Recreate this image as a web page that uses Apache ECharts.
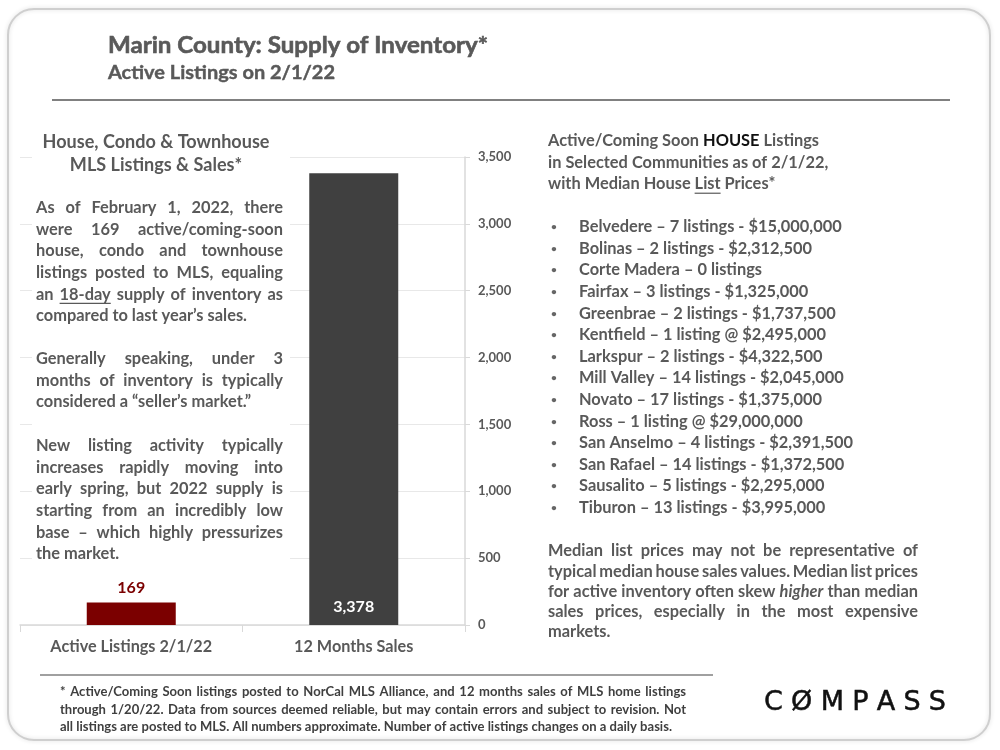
<!DOCTYPE html>
<html>
<head>
<meta charset="utf-8">
<script src="https://cdn.jsdelivr.net/npm/echarts@6/dist/echarts.min.js"></script>
<style>html,body{margin:0;padding:0;background:#fff}#c{width:1000px;height:750px}</style>
</head>
<body>
<div id="c"></div>
<script>
// ---------- DATA ----------
const categories = ['Active Listings 2/1/22', '12 Months Sales'];
const values = [169, 3378];
const yMin = 0, yMax = 3500, yInterval = 500;

const communities = ['Belvedere','Bolinas','Corte Madera','Fairfax','Greenbrae','Kentfield','Larkspur','Mill Valley','Novato','Ross','San Anselmo','San Rafael','Sausalito','Tiburon'];
const listingCounts = [7, 2, 0, 3, 2, 1, 2, 14, 17, 1, 4, 14, 5, 13];
const medianListPrices = [15000000, 2312500, null, 1325000, 1737500, 2495000, 4322500, 2045000, 1375000, 29000000, 2391500, 1372500, 2295000, 3995000];

const titleText = 'Marin County: Supply of Inventory*';
const subtitleText = 'Active Listings on 2/1/22';
const leftHeader = ['House, Condo & Townhouse', 'MLS Listings & Sales*'];
const leftParas = [
  ['As of February 1, 2022, there', 'were 169 active/coming-soon', 'house, condo and townhouse', 'listings posted to MLS, equaling', 'an ~18-day~ supply of inventory as', 'compared to last year\u2019s sales.'],
  ['Generally speaking, under 3', 'months of inventory is typically', 'considered a \u201cseller\u2019s market.\u201d'],
  ['New listing activity typically', 'increases rapidly moving into', 'early spring, but 2022 supply is', 'starting from an incredibly low', 'base \u2013 which highly pressurizes', 'the market.']
];
const rightHeader = ['Active/Coming Soon ^HOUSE^ Listings', 'in Selected Communities as of 2/1/22,', 'with Median House ~List~ Prices*'];
const rightPara = ['Median list prices may not be representative of', 'typical median house sales values. Median list prices', 'for active inventory often skew |higher| than median', 'sales prices, especially in the most expensive', 'markets.'];
const footerLines = [
  '* Active/Coming Soon listings posted to NorCal MLS Alliance, and 12 months sales of MLS home listings',
  'through 1/20/22.  Data from sources deemed reliable, but may contain errors and subject to revision.  Not',
  'all listings are posted to MLS. All numbers approximate. Number of active listings changes on a daily basis.'
];
const logoText = 'C\u00d8MPASS';

// ---------- HELPERS ----------
const BODY = 'Lato, "Open Sans", sans-serif';
const LOGO = '"DejaVu Sans", sans-serif';
const GRAY = '#595959';
const mctx = document.createElement('canvas').getContext('2d');
function fontStr(weight, size, fam, italic) { return (italic ? 'italic ' : '') + weight + ' ' + size + 'px ' + fam; }
function measure(t, f) { mctx.font = f; return mctx.measureText(t).width; }
function fit(t, weight, fam, target) { return 100 * target / measure(t, fontStr(weight, 100, fam)); }
function squeeze(t, weight, size, fam, target) { return target / measure(t, fontStr(weight, size, fam)); }

const els = [];
function addLine(line, o) {
  const sx = o.sx || 1;
  const fam = o.fam || BODY, weight = o.weight || 'bold';
  const words = line.split(' ').filter(w => w.length).map(w => {
    const r = { t: w, u: false, i: false, k: false };
    if (/^~.*~[.,]?$/.test(w)) { r.u = true; r.t = w.replace(/~/g, ''); }
    if (/^\|.*\|$/.test(w)) { r.i = true; r.t = w.replace(/\|/g, ''); }
    if (/^\^.*\^$/.test(w)) { r.k = true; r.t = w.replace(/\^/g, ''); }
    r.f = fontStr(weight, o.size, fam, r.i);
    r.w = measure(r.t, r.f) * sx;
    return r;
  });
  const total = words.reduce((s, w) => s + w.w, 0);
  let gap = measure(' ', fontStr(weight, o.size, fam)) * sx;
  let x = o.x;
  if (o.align === 'justify' && words.length > 1) gap = (o.width - total) / (words.length - 1);
  if (o.align === 'center') x = o.x - (total + gap * (words.length - 1)) / 2;
  words.forEach(w => {
    const fill = w.k ? '#111' : (o.color || GRAY);
    const st = { text: w.t, font: w.f, fill: fill, textAlign: 'left', textVerticalAlign: 'middle', verticalAlign: 'middle' };
    if (o.embolden) { st.stroke = fill; st.lineWidth = o.embolden; }
    els.push({ type: 'text', x: x, y: o.y, scaleX: sx, z: 100, silent: true, style: st });
    if (w.u) {
      els.push({ type: 'line', z: 100, silent: true, shape: { x1: x, y1: o.y + o.size * 0.55, x2: x + w.w, y2: o.y + o.size * 0.55 },
        style: { stroke: o.color || GRAY, lineWidth: 1.2 } });
    }
    x += w.w + gap;
  });
}
function addPara(lines, o) {
  lines.forEach((l, i) => addLine(l, Object.assign({}, o, { y: o.y + i * o.lh, align: (i === lines.length - 1) ? 'left' : 'justify' })));
}
function fmtMoney(v) { return '$' + v.toLocaleString('en-US'); }
function bulletText(i) {
  const n = listingCounts[i], name = communities[i];
  if (n === 0) return name + ' \u2013 0 listings';
  if (n === 1) return name + ' \u2013 1 listing @ ' + fmtMoney(medianListPrices[i]);
  return name + ' \u2013 ' + n + ' listings - ' + fmtMoney(medianListPrices[i]);
}

// ---------- SIZES ----------
const bodySize = fit('Belvedere \u2013 7 listings - $15,000,000', 'bold', BODY, 263);
const titleSize = 23, subSize = 18.5, footSize = 13.6;
const titleSx = squeeze(titleText, 'bold', titleSize, BODY, 380);
const subSx = squeeze(subtitleText, 'bold', subSize, BODY, 227);
const footSx = squeeze(footerLines[2], 'bold', footSize, BODY, 612);
const catSize = fit(categories[0], 'bold', BODY, 162);

// ---------- DECOR ----------
els.push({ type: 'rect', z: 1, silent: true, shape: { x: 8, y: 9, width: 982, height: 731, r: 26 },
  style: { fill: 'rgba(0,0,0,0)', stroke: '#cfcfcf', lineWidth: 2, shadowBlur: 4, shadowColor: 'rgba(0,0,0,0.15)' } });
els.push({ type: 'line', z: 100, silent: true, shape: { x1: 52, y1: 100, x2: 950, y2: 100 }, style: { stroke: '#808080', lineWidth: 2 } });
els.push({ type: 'line', z: 100, silent: true, shape: { x1: 40, y1: 675, x2: 713, y2: 675 }, style: { stroke: '#808080', lineWidth: 1.6 } });
// white panel behind left text (covers gridlines)
els.push({ type: 'rect', z: 50, silent: true, shape: { x: 32, y: 125, width: 258, height: 445 }, style: { fill: '#fff' } });

// ---------- TEXT ----------
addLine(titleText, { x: 108, y: 46, size: titleSize, sx: titleSx, align: 'left', embolden: 0.6 });
addLine(subtitleText, { x: 108, y: 73, size: subSize, sx: subSx, align: 'left', embolden: 0.4 });

addLine(leftHeader[0], { x: 156, y: 142, size: bodySize * 1.1, align: 'center' });
addLine(leftHeader[1], { x: 156, y: 165, size: bodySize * 1.1, align: 'center' });
addPara(leftParas[0], { x: 36, y: 208, width: 247, lh: 21.6, size: bodySize });
addPara(leftParas[1], { x: 36, y: 359, width: 247, lh: 21.6, size: bodySize });
addPara(leftParas[2], { x: 36, y: 446, width: 247, lh: 21.6, size: bodySize });

rightHeader.forEach((l, i) => addLine(l, { x: 548, y: 141 + i * 21.6, size: bodySize, align: 'left' }));
communities.forEach((c, i) => {
  const y = 227 + i * 21.6;
  addLine('\u2022', { x: 551, y: y, size: bodySize * 0.62, align: 'left', color: '#666' });
  addLine(bulletText(i), { x: 579, y: y, size: bodySize, align: 'left' });
});
addPara(rightPara, { x: 548, y: 551, width: 370, lh: 20.3, size: bodySize });

addPara(footerLines, { x: 60, y: 692, width: 626, lh: 17.5, size: footSize, sx: footSx, color: '#3f3f3f' });

addLine(logoText.split('').join(' '), { x: 764, y: 703, width: 182, size: 27, weight: 'normal', fam: LOGO, color: '#111', align: 'justify', embolden: 0.5 });

// ---------- CHART ----------
const barColors = ['#7B0000', '#404040'];
const chart = echarts.init(document.getElementById('c'), null, { renderer: 'canvas' });
chart.setOption({
  backgroundColor: '#fff',
  animation: false,
  grid: { left: 20, right: 535, top: 157, bottom: 125 },
  xAxis: {
    type: 'category', data: categories,
    axisLine: { lineStyle: { color: '#d9d9d9', width: 1.5 } },
    axisTick: { show: true, length: 7, lineStyle: { color: '#d9d9d9' } },
    axisLabel: { color: GRAY, fontWeight: 'bold', fontFamily: BODY, fontSize: catSize, margin: 14 }
  },
  yAxis: {
    type: 'value', position: 'right', min: yMin, max: yMax, interval: yInterval,
    axisLine: { show: true, lineStyle: { color: '#d9d9d9', width: 1.5 } },
    axisTick: { show: true, length: 5, lineStyle: { color: '#d9d9d9' } },
    splitLine: { lineStyle: { color: '#e8e8e8' } },
    axisLabel: { formatter: v => v.toLocaleString('en-US'), color: GRAY, fontWeight: 'bold', fontFamily: BODY, fontSize: 13, margin: 13 }
  },
  series: [{
    type: 'bar', barWidth: '40%',
    data: values.map((v, i) => ({
      value: v,
      itemStyle: { color: barColors[i] },
      label: i === 0
        ? { show: true, position: 'top', distance: 7, color: '#7B0000', fontWeight: 'bold', fontFamily: BODY, fontSize: 16, formatter: p => p.value.toLocaleString('en-US') }
        : { show: true, position: 'insideBottom', distance: 10, color: '#fff', fontWeight: 'bold', fontFamily: BODY, fontSize: 16, formatter: p => p.value.toLocaleString('en-US') }
    }))
  }],
  graphic: { elements: els }
});
</script>
</body>
</html>
